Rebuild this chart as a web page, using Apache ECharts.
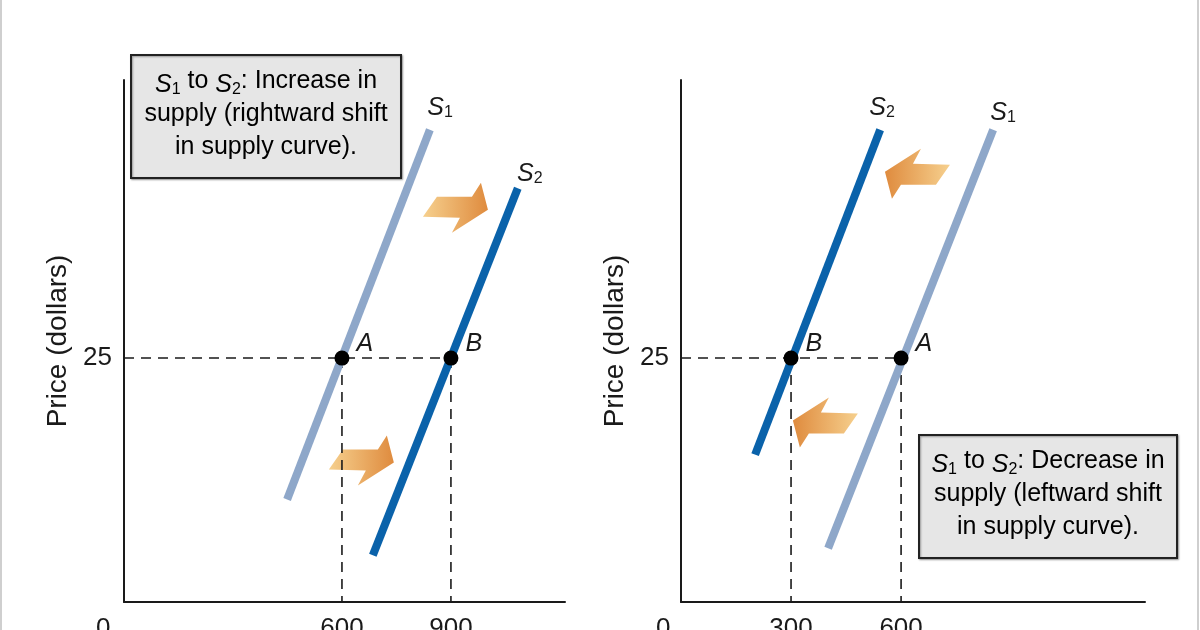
<!DOCTYPE html>
<html>
<head>
<meta charset="utf-8">
<script src="https://cdn.jsdelivr.net/npm/echarts@6/dist/echarts.min.js"></script>
<style>
html,body{margin:0;padding:0;background:#fff;}
#chart{width:1200px;height:630px;}
</style>
</head>
<body>
<div id="chart"></div>
<script>
// ---------- data ----------
const equilibriumPrice = 25;
// Left panel: increase in supply
const leftS1 = [[449, 10.5], [842, 48.4]];
const leftS2 = [[685, 4.8], [1084, 42.4]];
const leftPoints = [[600, 25, 'A'], [900, 25, 'B']];
const leftXTicks = [600, 900];
// Right panel: decrease in supply
const rightS1 = [[401, 5.5], [851, 48.4]];
const rightS2 = [[202, 15.1], [543, 48.4]];
const rightPoints = [[300, 25, 'B'], [600, 25, 'A']];
const rightXTicks = [300, 600];
const yTicks = [25];
// curve name labels [x, y, subscript]
const leftCurveLabels = [[870, 50.9, '1'], [1117, 44.1, '2']];
const rightCurveLabels = [[548, 50.9, '2'], [878, 50.4, '1']];
// shift arrows [x, y, direction]
const leftArrows = [[911, 40.4, 1], [652, 14.5, 1]];
const rightArrows = [[646, 43.9, -1], [395, 18.4, -1]];
const yAxisTitle = 'Price (dollars)';
const leftBoxLines = ['{s|S}{n|1}{t| to }{s|S}{n|2}{t|: Increase in}', '{t|supply (rightward shift}', '{t|in supply curve).}'];
const rightBoxLines = ['{s|S}{n|1}{t| to }{s|S}{n|2}{t|: Decrease in}', '{t|supply (leftward shift}', '{t|in supply curve).}'];

// ---------- styles ----------
const FONT = '"Liberation Sans", Arial, sans-serif';
const LIGHT = '#8ea7c9';
const DARK = '#0a62aa';
const INK = '#1a1a1a';

const chart = echarts.init(document.getElementById('chart'), null, {renderer: 'canvas'});

function xAxisCfg(grid, max, ticks) {
  return {
    type: 'value', gridIndex: grid, min: 0, max: max, interval: 300,
    axisLine: {show: true, onZero: false, lineStyle: {color: INK, width: 2}},
    axisTick: {show: false}, splitLine: {show: false},
    axisLabel: {
      margin: 14, fontSize: 26, color: INK, fontFamily: FONT,
      showMinLabel: true, showMaxLabel: true, hideOverlap: false,
      formatter: v => ticks.includes(v) ? String(v) : ''
    }
  };
}
function yAxisCfg(grid) {
  return {
    type: 'value', gridIndex: grid, min: 0, max: 53.5, interval: 25,
    name: yAxisTitle, nameLocation: 'middle', nameGap: 52,
    nameTextStyle: {fontSize: 28, color: INK, fontFamily: FONT},
    axisLine: {show: true, onZero: false, lineStyle: {color: INK, width: 2}},
    axisTick: {show: false}, splitLine: {show: false},
    axisLabel: {
      margin: 12, fontSize: 26, color: INK, fontFamily: FONT,
      showMaxLabel: false,
      formatter: v => yTicks.includes(v) ? String(v) : ''
    }
  };
}

const dashStyle = {color: INK, width: 1.6, type: [10, 7]};
function guideSeries(ax, points, maxX) {
  const s = [];
  s.push({type: 'line', xAxisIndex: ax, yAxisIndex: ax, silent: true, symbol: 'none', z: 3,
    lineStyle: dashStyle, data: [[0, equilibriumPrice], [maxX, equilibriumPrice]]});
  points.forEach(p => {
    s.push({type: 'line', xAxisIndex: ax, yAxisIndex: ax, silent: true, symbol: 'none', z: 3,
      lineStyle: dashStyle, data: [[p[0], p[1]], [p[0], 0]]});
  });
  return s;
}
function supplySeries(ax, data, color) {
  return {type: 'line', xAxisIndex: ax, yAxisIndex: ax, silent: true, symbol: 'none', z: 4,
    lineStyle: {color: color, width: 8, cap: 'butt'}, data: data};
}
function pointSeries(ax, data) {
  return {type: 'scatter', xAxisIndex: ax, yAxisIndex: ax, silent: true, z: 6,
    symbol: 'circle', symbolSize: 15, itemStyle: {color: '#000', opacity: 1},
    label: {show: true, position: 'right', offset: [2, -14],
      formatter: p => p.value[2], fontSize: 25, fontStyle: 'italic', color: INK, fontFamily: FONT},
    data: data};
}
const curveRich = {
  s: {fontSize: 25, fontStyle: 'italic', color: INK, fontFamily: FONT, lineHeight: 30, verticalAlign: 'bottom'},
  n: {fontSize: 16, color: INK, fontFamily: FONT, lineHeight: 14, verticalAlign: 'bottom'}
};
function curveLabelSeries(ax, data) {
  return {type: 'scatter', xAxisIndex: ax, yAxisIndex: ax, silent: true, z: 6,
    symbolSize: 2, itemStyle: {color: 'rgba(255,255,255,0)', opacity: 1},
    label: {show: true, position: 'inside', color: INK, formatter: p => '{s|S}{n|' + p.value[2] + '}', rich: curveRich},
    data: data};
}
// arrow shape, pointing right, relative to centre (px)
const arrowShape = [[-32, 9], [-18, -11], [17, -11], [26, -25], [33, 2], [-3, 25], [5, 10]];
function arrowSeries(ax, data) {
  return {type: 'custom', xAxisIndex: ax, yAxisIndex: ax, silent: true, z: 2,
    renderItem: (params, api) => {
      const c = api.coord([api.value(0), api.value(1)]);
      const d = api.value(2);
      const pts = arrowShape.map(p => [c[0] + d * p[0], c[1] + d * p[1]]);
      const stops = d > 0
        ? [{offset: 0, color: '#f6d08e'}, {offset: 1, color: '#df8b3e'}]
        : [{offset: 0, color: '#df8b3e'}, {offset: 1, color: '#f6d08e'}];
      return {type: 'polygon', shape: {points: pts},
        style: {fill: new echarts.graphic.LinearGradient(0, 0, 1, 0, stops)}};
    },
    data: data};
}

const boxRich = {
  t: {fontSize: 25, color: INK, fontFamily: FONT, lineHeight: 33},
  s: {fontSize: 25, fontStyle: 'italic', color: INK, fontFamily: FONT, lineHeight: 33, verticalAlign: 'bottom'},
  n: {fontSize: 16, color: INK, fontFamily: FONT, lineHeight: 22, verticalAlign: 'bottom'}
};
function box(x, y, w, h, lines) {
  return {
    type: 'group', left: x, top: y, z: 20,
    children: [
      {type: 'rect', shape: {x: 0, y: 0, width: w, height: h},
        style: {fill: '#e6e6e6', stroke: '#222', lineWidth: 2, shadowColor: 'rgba(0,0,0,0.35)', shadowBlur: 2, shadowOffsetX: 1, shadowOffsetY: 1}},
      {type: 'text', x: w / 2, y: h / 2 - 2,
        style: {text: lines.join('\n'), rich: boxRich, align: 'center', verticalAlign: 'middle'}}
    ]
  };
}

const option = {
  backgroundColor: '#fff',
  animation: false,
  grid: [
    {left: 124, top: 80, width: 441, bottom: 28, containLabel: false, outerBoundsMode: 'none'},
    {left: 681, top: 80, width: 464, bottom: 28, containLabel: false, outerBoundsMode: 'none'}
  ],
  xAxis: [xAxisCfg(0, 1214, leftXTicks), xAxisCfg(1, 1265, rightXTicks)],
  yAxis: [yAxisCfg(0), yAxisCfg(1)],
  series: [
    arrowSeries(0, leftArrows),
    arrowSeries(1, rightArrows),
    ...guideSeries(0, leftPoints, 900),
    ...guideSeries(1, rightPoints, 600),
    supplySeries(0, leftS1, LIGHT),
    supplySeries(0, leftS2, DARK),
    supplySeries(1, rightS1, LIGHT),
    supplySeries(1, rightS2, DARK),
    pointSeries(0, leftPoints),
    pointSeries(1, rightPoints),
    curveLabelSeries(0, leftCurveLabels),
    curveLabelSeries(1, rightCurveLabels)
  ],
  graphic: [
    {type: 'rect', left: 0, top: 0, shape: {width: 2, height: 630}, style: {fill: '#cfcfcf'}},
    {type: 'rect', left: 1197, top: 0, shape: {width: 2, height: 630}, style: {fill: '#cfcfcf'}},
    {type: 'text', left: 96, top: 616, style: {text: '0', fontSize: 26, fill: INK, fontFamily: FONT}},
    {type: 'text', left: 656, top: 616, style: {text: '0', fontSize: 26, fill: INK, fontFamily: FONT}},
    box(130, 54, 270, 123, leftBoxLines),
    box(918, 434, 258, 123, rightBoxLines)
  ]
};
chart.setOption(option);
</script>
</body>
</html>
